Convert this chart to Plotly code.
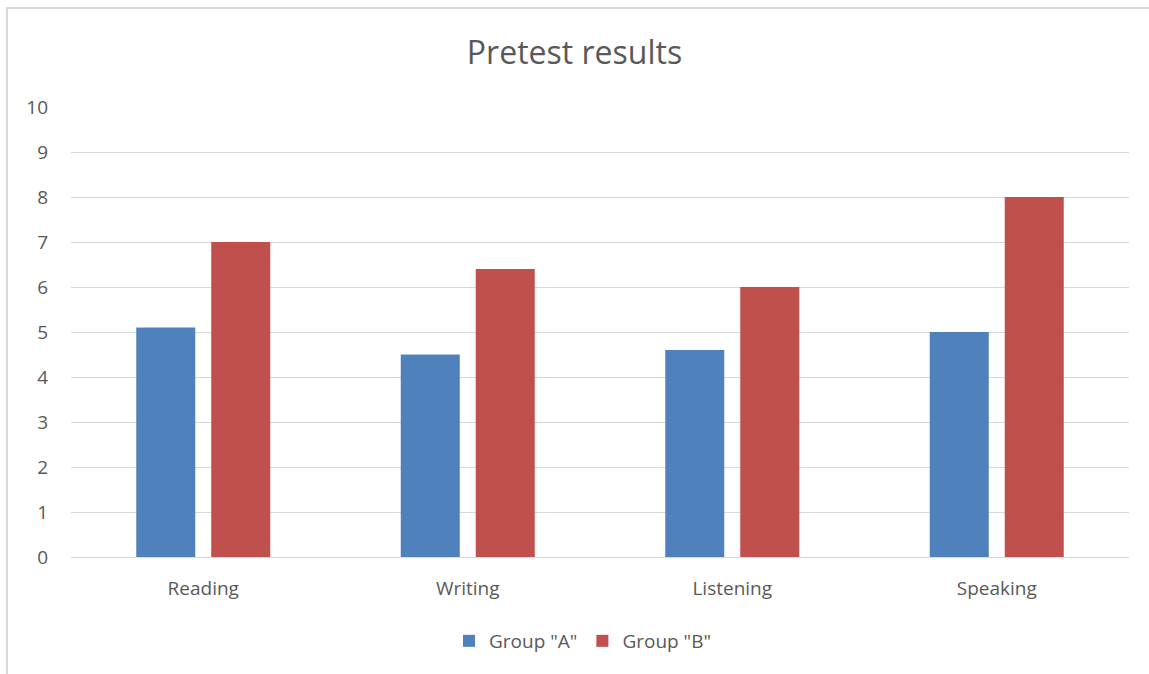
import plotly.graph_objects as go

# Pretest scores per skill for the two groups
skills = ["Reading", "Writing", "Listening", "Speaking"]
group_a = [5.1, 4.5, 4.6, 5.0]
group_b = [7.0, 6.4, 6.0, 8.0]
y_ticks = list(range(0, 11))

W, H = 1149, 674
ML, MR, MT, MB = 71, 20, 107, 117
plot_w = W - ML - MR
plot_h = H - MT - MB

text_color = "#595959"
grid_color = "#D9D9D9"
font_family = "Open Sans, Noto Sans, sans-serif"

fig = go.Figure()
fig.add_trace(go.Bar(x=skills, y=group_a, name='Group "A"',
                     marker=dict(color="#4F81BD", line=dict(width=0))))
fig.add_trace(go.Bar(x=skills, y=group_b, name='Group "B"',
                     marker=dict(color="#C0504D", line=dict(width=0))))

# Outer chart frame (top and left edges visible in the canvas)
fig.add_shape(type="rect", xref="paper", yref="paper",
              x0=(7 - ML) / plot_w, x1=(W + 10 - ML) / plot_w,
              y0=(H - MB - (H + 10)) / plot_h, y1=(H - MB - 8) / plot_h,
              line=dict(color="#D9D9D9", width=2), layer="below")

fig.update_layout(
    width=W, height=H,
    margin=dict(l=ML, r=MR, t=MT, b=MB),
    paper_bgcolor="white", plot_bgcolor="white",
    barmode="group", bargap=0.433, bargroupgap=0.213,
    font=dict(family=font_family, color=text_color, size=19),
    title=dict(text="Pretest results", x=0.5, xanchor="center",
               y=1 - 53 / H, yanchor="middle",
               font=dict(size=32, color=text_color, family=font_family)),
    xaxis=dict(showgrid=False, showline=True, linecolor=grid_color, linewidth=1,
               ticks="", tickfont=dict(size=19, color=text_color),
               ticklabelstandoff=14),
    yaxis=dict(range=[0, 10], tickvals=y_ticks, showgrid=True,
               gridcolor=grid_color, gridwidth=1, zeroline=True,
               zerolinecolor=grid_color, zerolinewidth=1, showline=False,
               ticks="", tickfont=dict(size=19, color=text_color),
               ticklabelstandoff=22),
    legend=dict(orientation="h", x=0.5 - 17 / plot_w, xanchor="center",
                y=(H - MB - 641) / plot_h, yanchor="middle",
                font=dict(size=19, color=text_color), itemwidth=30,
                traceorder="normal"),
    showlegend=True,
)

fig.write_html("out.html")
